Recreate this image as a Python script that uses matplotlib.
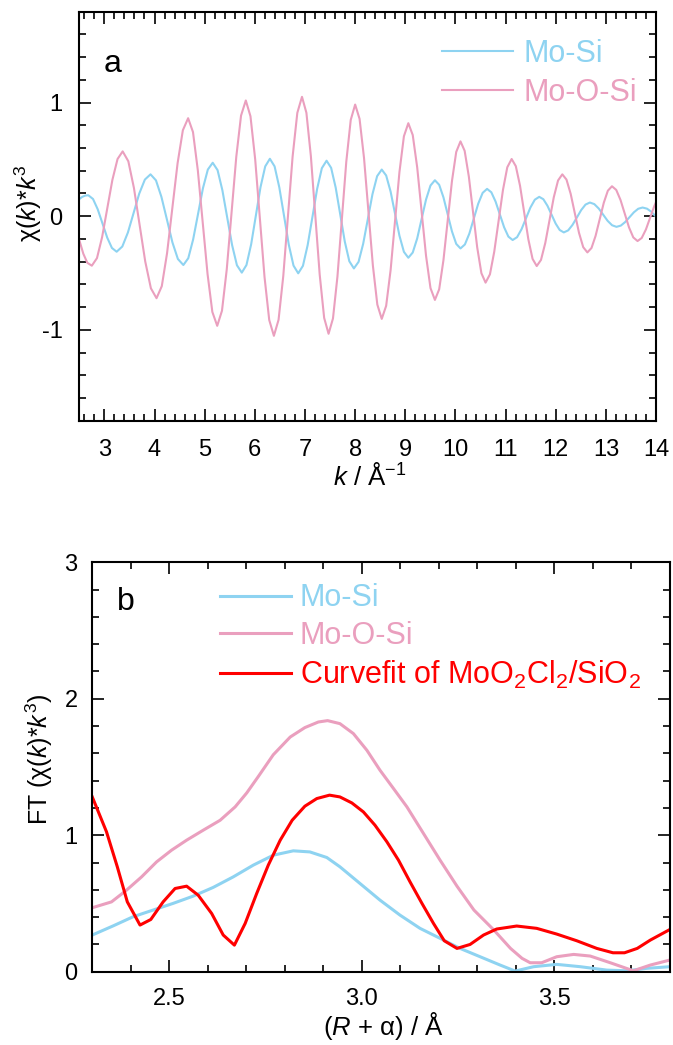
import matplotlib
matplotlib.use("Agg")
import matplotlib.pyplot as plt
from matplotlib.ticker import MultipleLocator, FormatStrFormatter


# (a) k^3-weighted EXAFS of the two single-scattering paths
k_mo_si = [
    2.50, 2.56, 2.62,
    2.680, 2.774, 2.868, 2.963, 3.057, 3.151,
    3.245, 3.358, 3.470, 3.583, 3.695, 3.808,
    3.920, 4.029, 4.138, 4.248, 4.357, 4.466,
    4.575, 4.673, 4.770, 4.868, 4.965, 5.063,
    5.160, 5.257, 5.353, 5.450, 5.547, 5.643,
    5.740, 5.833, 5.927, 6.020, 6.113, 6.207,
    6.300, 6.394, 6.488, 6.583, 6.677, 6.771,
    6.865, 6.959, 7.053, 7.148, 7.242, 7.336,
    7.430, 7.521, 7.612, 7.703, 7.793, 7.884,
    7.975, 8.068, 8.160, 8.253, 8.345, 8.438,
    8.530, 8.618, 8.707, 8.795, 8.883, 8.972,
    9.060, 9.148, 9.237, 9.325, 9.413, 9.502,
    9.590, 9.675, 9.760, 9.845, 9.930, 10.015,
    10.100, 10.188, 10.277, 10.365, 10.453, 10.542,
    10.630, 10.715, 10.800, 10.885, 10.970, 11.055,
    11.140, 11.228, 11.317, 11.405, 11.493, 11.582,
    11.670, 11.752, 11.833, 11.915, 11.997, 12.078,
    12.160, 12.247, 12.333, 12.420, 12.507, 12.593,
    12.680, 12.768, 12.857, 12.945, 13.033, 13.122,
    13.210, 13.297, 13.383, 13.470, 13.557, 13.643,
    13.730, 13.818, 13.907, 14.000,
]
chi_mo_si = [
    0.150, 0.170, 0.181,
    0.184, 0.151, 0.060, -0.065, -0.189, -0.280,
    -0.313, -0.267, -0.143, 0.028, 0.198, 0.322,
    0.368, 0.315, 0.169, -0.031, -0.231, -0.377,
    -0.430, -0.370, -0.205, 0.020, 0.245, 0.410,
    0.470, 0.405, 0.228, -0.014, -0.255, -0.432,
    -0.497, -0.430, -0.247, 0.004, 0.255, 0.438,
    0.505, 0.438, 0.253, 0.001, -0.251, -0.435,
    -0.503, -0.437, -0.255, -0.008, 0.240, 0.422,
    0.488, 0.425, 0.251, 0.014, -0.223, -0.397,
    -0.460, -0.402, -0.243, -0.025, 0.193, 0.352,
    0.410, 0.358, 0.216, 0.022, -0.172, -0.314,
    -0.366, -0.320, -0.196, -0.025, 0.146, 0.270,
    0.316, 0.276, 0.166, 0.016, -0.134, -0.244,
    -0.284, -0.249, -0.153, -0.022, 0.109, 0.205,
    0.240, 0.210, 0.128, 0.015, -0.098, -0.180,
    -0.210, -0.185, -0.115, -0.020, 0.075, 0.145,
    0.170, 0.149, 0.092, 0.014, -0.065, -0.122,
    -0.143, -0.125, -0.077, -0.012, 0.054, 0.102,
    0.120, 0.106, 0.067, 0.013, -0.041, -0.080,
    -0.094, -0.083, -0.052, -0.009, 0.034, 0.065,
    0.076, 0.066, 0.038, -0.006,
]

k_mo_o_si = [
    2.50, 2.58, 2.66,
    2.750, 2.853, 2.955, 3.058, 3.160, 3.263,
    3.365, 3.478, 3.590, 3.703, 3.815, 3.928,
    4.040, 4.145, 4.250, 4.355, 4.460, 4.565,
    4.670, 4.767, 4.863, 4.960, 5.057, 5.153,
    5.250, 5.345, 5.440, 5.535, 5.630, 5.725,
    5.820, 5.913, 6.007, 6.100, 6.193, 6.287,
    6.380, 6.473, 6.567, 6.660, 6.753, 6.847,
    6.940, 7.028, 7.117, 7.205, 7.293, 7.382,
    7.470, 7.558, 7.647, 7.735, 7.823, 7.912,
    8.000, 8.088, 8.177, 8.265, 8.353, 8.442,
    8.530, 8.618, 8.707, 8.795, 8.883, 8.972,
    9.060, 9.148, 9.237, 9.325, 9.413, 9.502,
    9.590, 9.675, 9.760, 9.845, 9.930, 10.015,
    10.100, 10.183, 10.267, 10.350, 10.433, 10.517,
    10.600, 10.687, 10.773, 10.860, 10.947, 11.033,
    11.120, 11.203, 11.287, 11.370, 11.453, 11.537,
    11.620, 11.705, 11.790, 11.875, 11.960, 12.045,
    12.130, 12.213, 12.297, 12.380, 12.463, 12.547,
    12.630, 12.712, 12.793, 12.875, 12.957, 13.038,
    13.120, 13.205, 13.290, 13.375, 13.460, 13.545,
    13.630, 13.713, 13.797, 13.880, 13.963, 14.000,
]
chi_mo_o_si = [
    -0.21, -0.33, -0.41,
    -0.436, -0.369, -0.185, 0.067, 0.319, 0.503,
    0.570, 0.483, 0.247, -0.076, -0.399, -0.635,
    -0.722, -0.616, -0.326, 0.070, 0.466, 0.756,
    0.862, 0.740, 0.405, -0.052, -0.508, -0.843,
    -0.965, -0.832, -0.469, 0.027, 0.522, 0.885,
    1.018, 0.879, 0.500, -0.018, -0.535, -0.914,
    -1.053, -0.912, -0.527, -0.002, 0.524, 0.909,
    1.050, 0.910, 0.529, 0.008, -0.514, -0.895,
    -1.035, -0.900, -0.531, -0.027, 0.478, 0.847,
    0.982, 0.856, 0.511, 0.039, -0.433, -0.778,
    -0.904, -0.789, -0.474, -0.043, 0.388, 0.703,
    0.818, 0.714, 0.429, 0.041, -0.348, -0.633,
    -0.737, -0.644, -0.388, -0.040, 0.309, 0.565,
    0.658, 0.575, 0.347, 0.037, -0.274, -0.502,
    -0.585, -0.512, -0.313, -0.041, 0.231, 0.430,
    0.503, 0.440, 0.268, 0.032, -0.204, -0.376,
    -0.439, -0.385, -0.237, -0.036, 0.166, 0.314,
    0.368, 0.322, 0.196, 0.025, -0.147, -0.273,
    -0.319, -0.280, -0.174, -0.028, 0.118, 0.224,
    0.263, 0.231, 0.143, 0.022, -0.099, -0.187,
    -0.219, -0.192, -0.117, -0.015, 0.088, 0.125,
]

# (b) Fourier transform magnitudes
r_mo_si = [
    2.300, 2.355, 2.406, 2.458, 2.510, 2.562, 2.614, 2.666, 2.718, 2.770,
    2.822, 2.865, 2.909, 2.943, 2.995, 3.047, 3.099, 3.151, 3.203, 3.255,
    3.307, 3.359, 3.398, 3.446, 3.506, 3.567, 3.636, 3.688, 3.740, 3.800,
]
ft_mo_si = [
    0.269, 0.337, 0.403, 0.452, 0.501, 0.554, 0.618, 0.695, 0.781, 0.854,
    0.886, 0.878, 0.837, 0.769, 0.647, 0.525, 0.415, 0.318, 0.245, 0.171,
    0.110, 0.049, 0.005, 0.037, 0.054, 0.037, 0.012, 0.007, 0.025, 0.037,
]

r_mo_o_si = [
    2.300, 2.350, 2.389, 2.428, 2.467, 2.506, 2.545, 2.588, 2.632, 2.671,
    2.701, 2.731, 2.770, 2.814, 2.852, 2.887, 2.911, 2.943, 2.978, 3.013,
    3.047, 3.082, 3.117, 3.160, 3.203, 3.247, 3.291, 3.343, 3.386, 3.416,
    3.437, 3.467, 3.506, 3.550, 3.593, 3.645, 3.705, 3.749, 3.800,
]
ft_mo_o_si = [
    0.469, 0.512, 0.598, 0.695, 0.805, 0.891, 0.964, 1.037, 1.110, 1.208,
    1.310, 1.430, 1.590, 1.720, 1.789, 1.830, 1.840, 1.818, 1.745, 1.623,
    1.477, 1.343, 1.208, 1.013, 0.818, 0.627, 0.452, 0.305, 0.171, 0.098,
    0.066, 0.066, 0.110, 0.127, 0.115, 0.066, 0.007, 0.049, 0.086,
]

r_curvefit = [
    2.300, 2.337, 2.365, 2.391, 2.424, 2.452, 2.484, 2.515, 2.545, 2.575,
    2.610, 2.640, 2.669, 2.697, 2.727, 2.757, 2.788, 2.819, 2.852, 2.883,
    2.916, 2.943, 2.974, 3.004, 3.034, 3.065, 3.095, 3.125, 3.156, 3.186,
    3.214, 3.247, 3.281, 3.316, 3.350, 3.402, 3.454, 3.506, 3.558, 3.610,
    3.652, 3.682, 3.715, 3.749, 3.800,
]
ft_curvefit = [
    1.281, 1.025, 0.769, 0.512, 0.342, 0.383, 0.512, 0.610, 0.627, 0.561,
    0.427, 0.269, 0.195, 0.354, 0.574, 0.781, 0.964, 1.110, 1.213, 1.269,
    1.294, 1.281, 1.237, 1.171, 1.074, 0.952, 0.818, 0.659, 0.501, 0.354,
    0.227, 0.171, 0.200, 0.269, 0.313, 0.335, 0.318, 0.276, 0.227, 0.171,
    0.139, 0.139, 0.171, 0.232, 0.310,
]

MO_SI_COLOR = "#8ED3F1"
MO_O_SI_COLOR = "#EA9FBE"
FIT_COLOR = "#FF0000"

plt.rcParams.update(
    {
        "font.family": "Liberation Sans",
        "mathtext.fontset": "custom",
        "mathtext.rm": "Liberation Sans",
        "mathtext.it": "Liberation Sans:italic",
        "mathtext.bf": "Liberation Sans:bold",
        "axes.unicode_minus": False,
    }
)


def style_axes(ax, xpad, ypad):
    for spine in ax.spines.values():
        spine.set_linewidth(1.5)
    ax.tick_params(
        which="both",
        direction="in",
        top=True,
        right=True,
        width=1.2,
        labelsize=17,
    )
    ax.tick_params(which="major", length=8.5)
    ax.tick_params(which="minor", length=5)
    ax.tick_params(axis="x", pad=xpad)
    ax.tick_params(axis="y", pad=ypad)


fig = plt.figure(figsize=(6.73, 10.45), dpi=100)

# ---- panel a ----
ax1 = fig.add_axes([0.1178, 0.5974, 0.8571, 0.3915])
ax1.plot(k_mo_si, chi_mo_si, color=MO_SI_COLOR, lw=1.5, label="Mo-Si")
ax1.plot(k_mo_o_si, chi_mo_o_si, color=MO_O_SI_COLOR, lw=1.5, label="Mo-O-Si")
ax1.set_xlim(2.5, 14)
ax1.set_ylim(-1.8, 1.8)
ax1.xaxis.set_major_locator(MultipleLocator(1))
ax1.xaxis.set_minor_locator(MultipleLocator(0.2))
ax1.yaxis.set_major_locator(MultipleLocator(1))
ax1.yaxis.set_minor_locator(MultipleLocator(0.2))
style_axes(ax1, xpad=13.5, ypad=12)
ax1.set_xlabel(r"$\mathit{k}$ / Å$^{\mathrm{-1}}$", fontsize=18.5)
ax1.set_ylabel(r"χ($\mathit{k}$)*$\mathit{k}^{\mathrm{3}}$", fontsize=18)
ax1.xaxis.set_label_coords(0.504, -0.103)
ax1.yaxis.set_label_coords(-0.061, 0.532)
ax1.text(0.043, 0.852, "a", transform=ax1.transAxes, fontsize=23,
         va="baseline", ha="left")
ax1.legend(
    loc="upper left",
    bbox_to_anchor=(0.629, 0.933),
    frameon=False,
    fontsize=22,
    handlelength=2.32,
    handletextpad=0.33,
    labelspacing=0.3,
    borderpad=0,
    borderaxespad=0,
    labelcolor="linecolor",
)

# ---- panel b ----
ax2 = fig.add_axes([0.1371, 0.0701, 0.8584, 0.3918])
ax2.plot(r_mo_si, ft_mo_si, color=MO_SI_COLOR, lw=2.2, label="Mo-Si")
ax2.plot(r_mo_o_si, ft_mo_o_si, color=MO_O_SI_COLOR, lw=2.2, label="Mo-O-Si")
ax2.plot(r_curvefit, ft_curvefit, color=FIT_COLOR, lw=2.2,
         label=r"Curvefit of MoO$_{\mathrm{2}}$Cl$_{\mathrm{2}}$/SiO$_{\mathrm{2}}$")
ax2.set_xlim(2.3, 3.8)
ax2.set_ylim(0, 3)
ax2.xaxis.set_major_locator(MultipleLocator(0.5))
ax2.xaxis.set_minor_locator(MultipleLocator(0.1))
ax2.xaxis.set_major_formatter(FormatStrFormatter("%.1f"))
ax2.yaxis.set_major_locator(MultipleLocator(1))
ax2.yaxis.set_minor_locator(MultipleLocator(0.2))
style_axes(ax2, xpad=11.5, ypad=10.5)
ax2.set_xlabel(r"($\mathit{R}$ + α) / Å", fontsize=18.5)
ax2.set_ylabel(r"FT (χ($\mathit{k}$)*$\mathit{k}^{\mathrm{3}}$)", fontsize=18)
ax2.xaxis.set_label_coords(0.503, -0.0935)
ax2.yaxis.set_label_coords(-0.065, 0.52)
ax2.text(0.043, 0.8835, "b", transform=ax2.transAxes, fontsize=23,
         va="baseline", ha="left")
ax2.legend(
    loc="upper left",
    bbox_to_anchor=(0.221, 0.949),
    frameon=False,
    fontsize=22,
    handlelength=2.32,
    handletextpad=0.3,
    labelspacing=0.26,
    borderpad=0,
    borderaxespad=0,
    labelcolor="linecolor",
)

fig.savefig("out.png", dpi=100)
plt.close(fig)
